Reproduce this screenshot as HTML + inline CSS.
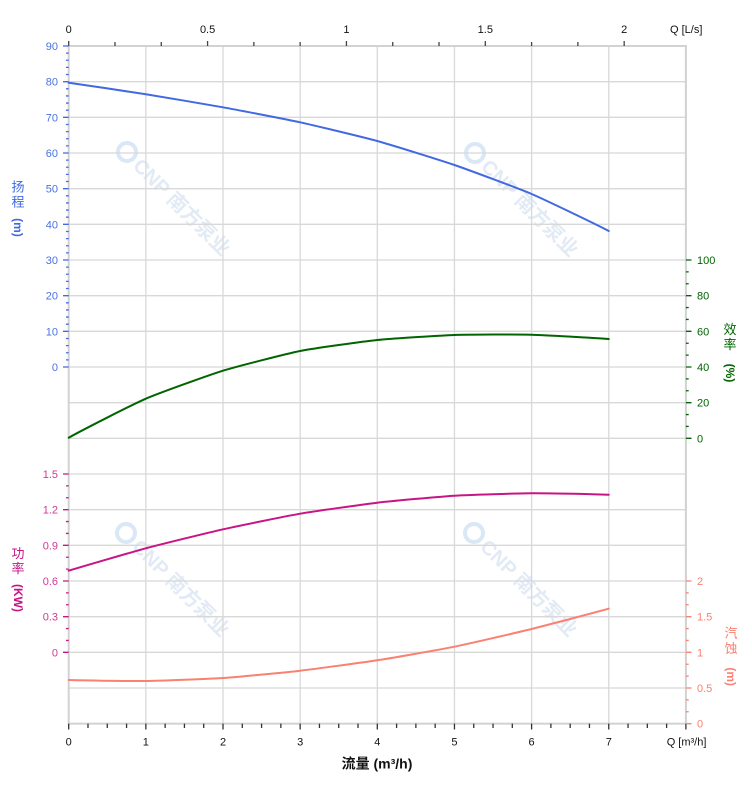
<!DOCTYPE html>
<html><head><meta charset="utf-8"><style>
html,body{margin:0;padding:0;background:#fff;}
svg{display:block;font-family:"Liberation Sans","Noto Sans CJK SC",sans-serif;}
</style></head><body>
<svg width="752" height="797" viewBox="0 0 752 797" xmlns="http://www.w3.org/2000/svg">
<!-- watermarks -->
<g fill="#e2ebf5" font-weight="bold" font-size="20" font-family="'Liberation Sans','Noto Sans CJK SC',sans-serif">
  <g transform="translate(127,152) rotate(45)"><circle cx="0" cy="0" r="9" fill="none" stroke="#d9e7f6" stroke-width="4"/><text x="14" y="7">CNP 南方泵业</text></g>
  <g transform="translate(475,153) rotate(45)"><circle cx="0" cy="0" r="9" fill="none" stroke="#d9e7f6" stroke-width="4"/><text x="14" y="7">CNP 南方泵业</text></g>
  <g transform="translate(126,533) rotate(45)"><circle cx="0" cy="0" r="9" fill="none" stroke="#d9e7f6" stroke-width="4"/><text x="14" y="7">CNP 南方泵业</text></g>
  <g transform="translate(474,533) rotate(45)"><circle cx="0" cy="0" r="9" fill="none" stroke="#d9e7f6" stroke-width="4"/><text x="14" y="7">CNP 南方泵业</text></g>
</g>
<!-- grid -->
<g stroke="#d8d8d8" stroke-width="1.3" fill="none">
<path d="M145.85,46V723.67M223,46V723.67M300.15,46V723.67M377.3,46V723.67M454.45,46V723.67M531.6,46V723.67M608.75,46V723.67"/>
<path d="M68.7,81.67H685.9M68.7,117.33H685.9M68.7,153H685.9M68.7,188.67H685.9M68.7,224.33H685.9M68.7,260H685.9M68.7,295.67H685.9M68.7,331.33H685.9M68.7,367H685.9M68.7,402.67H685.9M68.7,438.33H685.9M68.7,474H685.9M68.7,509.67H685.9M68.7,545.33H685.9M68.7,581H685.9M68.7,616.67H685.9M68.7,652.33H685.9M68.7,688H685.9"/>
</g>
<rect x="68.7" y="46" width="617.2" height="677.67" fill="none" stroke="#d2d2d2" stroke-width="2"/>

<!-- top axis ticks -->
<g stroke="#444" stroke-width="1.3">
<path d="M68.7,41V46M207.57,41V46M346.44,41V46M485.31,41V46M624.18,41V46"/>
<path d="M114.99,42V46M161.28,42V46M253.86,42V46M300.15,42V46M392.73,42V46M439.02,42V46M531.6,42V46M577.89,42V46"/>
</g>
<g font-size="11" fill="#111" text-anchor="middle">
<text x="68.7" y="33">0</text><text x="207.6" y="33">0.5</text><text x="346.4" y="33">1</text><text x="485.3" y="33">1.5</text><text x="624.2" y="33">2</text>
</g>
<text x="670" y="33" font-size="11" fill="#111">Q [L/s]</text>

<!-- bottom axis ticks -->
<g stroke="#333" stroke-width="1.3">
<path d="M68.7,723.67V729.5M145.85,723.67V729.5M223,723.67V729.5M300.15,723.67V729.5M377.3,723.67V729.5M454.45,723.67V729.5M531.6,723.67V729.5M608.75,723.67V729.5M685.9,723.67V729.5"/>
<path d="M87.99,723.67V728M107.28,723.67V728M126.56,723.67V728M165.14,723.67V728M184.43,723.67V728M203.71,723.67V728M242.29,723.67V728M261.58,723.67V728M280.86,723.67V728M319.44,723.67V728M338.73,723.67V728M358.01,723.67V728M396.59,723.67V728M415.88,723.67V728M435.16,723.67V728M473.74,723.67V728M493.03,723.67V728M512.31,723.67V728M550.89,723.67V728M570.18,723.67V728M589.46,723.67V728M628.04,723.67V728M647.33,723.67V728M666.61,723.67V728"/>
</g>
<g font-size="11" fill="#111" text-anchor="middle">
<text x="68.7" y="745.7">0</text><text x="145.85" y="745.7">1</text><text x="223" y="745.7">2</text><text x="300.15" y="745.7">3</text><text x="377.3" y="745.7">4</text><text x="454.45" y="745.7">5</text><text x="531.6" y="745.7">6</text><text x="608.75" y="745.7">7</text>
</g>
<text x="666.7" y="745.7" font-size="11" fill="#111">Q [m³/h]</text>
<text x="377" y="768.5" font-size="14" font-weight="bold" fill="#111" text-anchor="middle">流量 (m³/h)</text>

<!-- head axis (left, blue) -->
<g stroke="#4169E1" stroke-width="1.3">
<path d="M63,46H68.7M63,81.67H68.7M63,117.33H68.7M63,153H68.7M63,188.67H68.7M63,224.33H68.7M63,260H68.7M63,295.67H68.7M63,331.33H68.7M63,367H68.7"/>
<path d="M66,53.13H68.7M66,60.27H68.7M66,67.4H68.7M66,74.53H68.7M66,88.8H68.7M66,95.93H68.7M66,103.07H68.7M66,110.2H68.7M66,124.47H68.7M66,131.6H68.7M66,138.73H68.7M66,145.87H68.7M66,160.13H68.7M66,167.27H68.7M66,174.4H68.7M66,181.53H68.7M66,195.8H68.7M66,202.93H68.7M66,210.07H68.7M66,217.2H68.7M66,231.47H68.7M66,238.6H68.7M66,245.73H68.7M66,252.87H68.7M66,267.13H68.7M66,274.27H68.7M66,281.4H68.7M66,288.53H68.7M66,302.8H68.7M66,309.93H68.7M66,317.07H68.7M66,324.2H68.7M66,338.47H68.7M66,345.6H68.7M66,352.73H68.7M66,359.87H68.7"/>
</g>
<g font-size="11" fill="#4a72e3" text-anchor="end">
<text x="58" y="50">90</text><text x="58" y="85.7">80</text><text x="58" y="121.3">70</text><text x="58" y="157">60</text><text x="58" y="192.7">50</text><text x="58" y="228.3">40</text><text x="58" y="264">30</text><text x="58" y="299.7">20</text><text x="58" y="335.3">10</text><text x="58" y="371">0</text>
</g>
<g fill="#4169E1" font-size="13" text-anchor="middle">
<text x="18" y="191.5">扬</text><text x="18" y="206.5">程</text>
<text transform="translate(14,227.5) rotate(90)" font-weight="bold" font-size="12" text-anchor="middle">(m)</text>
</g>

<!-- efficiency axis (right, green) -->
<g stroke="#006400" stroke-width="1.3">
<path d="M685.9,260H691.5M685.9,295.67H691.5M685.9,331.33H691.5M685.9,367H691.5M685.9,402.67H691.5M685.9,438.33H691.5"/>
<path d="M685.9,271.89H688.7M685.9,283.78H688.7M685.9,307.56H688.7M685.9,319.44H688.7M685.9,343.22H688.7M685.9,355.11H688.7M685.9,378.89H688.7M685.9,390.78H688.7M685.9,414.56H688.7M685.9,426.44H688.7"/>
</g>
<g font-size="11" fill="#006400">
<text x="697" y="264">100</text><text x="697" y="299.7">80</text><text x="697" y="335.3">60</text><text x="697" y="371">40</text><text x="697" y="406.7">20</text><text x="697" y="442.3">0</text>
</g>
<g fill="#006400" font-size="13" text-anchor="middle">
<text x="730" y="334">效</text><text x="730" y="349">率</text>
<text transform="translate(726,373) rotate(90)" font-weight="bold" font-size="12" text-anchor="middle">(%)</text>
</g>

<!-- power axis (left, magenta) -->
<g stroke="#C71585" stroke-width="1.3">
<path d="M63,474H68.7M63,509.67H68.7M63,545.33H68.7M63,581H68.7M63,616.67H68.7M63,652.33H68.7"/>
<path d="M66,485.89H68.7M66,497.78H68.7M66,521.56H68.7M66,533.44H68.7M66,557.22H68.7M66,569.11H68.7M66,592.89H68.7M66,604.78H68.7M66,628.56H68.7M66,640.44H68.7"/>
</g>
<g font-size="11" fill="#cf3a95" text-anchor="end">
<text x="58" y="478">1.5</text><text x="58" y="513.7">1.2</text><text x="58" y="549.3">0.9</text><text x="58" y="585">0.6</text><text x="58" y="620.7">0.3</text><text x="58" y="656.3">0</text>
</g>
<g fill="#C71585" font-size="13" text-anchor="middle">
<text x="18" y="558">功</text><text x="18" y="573">率</text>
<text transform="translate(14,598) rotate(90)" font-weight="bold" font-size="12" text-anchor="middle">(KW)</text>
</g>

<!-- NPSH axis (right, salmon) -->
<g stroke="#FA8072" stroke-width="1.3">
<path d="M685.9,581H691.5M685.9,616.67H691.5M685.9,652.33H691.5M685.9,688H691.5M685.9,723.67H691.5"/>
<path d="M685.9,592.89H688.7M685.9,604.78H688.7M685.9,628.56H688.7M685.9,640.44H688.7M685.9,664.22H688.7M685.9,676.11H688.7M685.9,699.89H688.7M685.9,711.78H688.7"/>
</g>
<g font-size="11" fill="#FA8072">
<text x="697" y="585">2</text><text x="697" y="620.7">1.5</text><text x="697" y="656.3">1</text><text x="697" y="692">0.5</text><text x="697" y="727.7">0</text>
</g>
<g fill="#FA8072" font-size="13" text-anchor="middle">
<text x="731" y="637.5">汽</text><text x="731" y="653">蚀</text>
<text transform="translate(727,676.7) rotate(90)" font-weight="bold" font-size="12" text-anchor="middle">(m)</text>
</g>

<!-- curves -->
<g fill="none" stroke-width="2" stroke-linecap="round">
<path stroke="#4169E1" d="M68.7,82.7 C81.56,84.5 132.99,92.25 145.85,94.3 C158.71,96.35 210.14,104.97 223,107.3 C235.86,109.63 287.29,119.49 300.15,122.3 C313.01,125.11 364.44,137.44 377.3,141 C390.16,144.56 441.59,160.58 454.45,165 C467.31,169.42 518.74,188.5 531.6,194 C544.46,199.5 595.89,224.2 608.75,231"/>
<path stroke="#006400" d="M68.7,437.7 C81.56,430.4 132.99,404.28 145.85,398.7 C158.71,393.12 210.14,374.68 223,370.7 C235.86,366.72 287.29,353.56 300.15,351 C313.01,348.44 364.44,341.33 377.3,340 C390.16,338.67 441.59,335.44 454.45,335 C467.31,334.56 518.74,334.37 531.6,334.7 C544.46,335.03 595.89,338.1 608.75,339"/>
<path stroke="#C71585" d="M68.7,570.7 C81.56,566.8 132.99,551.75 145.85,548.3 C158.71,544.85 210.14,532.18 223,529.3 C235.86,526.42 287.29,515.92 300.15,513.7 C313.01,511.48 364.44,504.2 377.3,502.7 C390.16,501.2 441.59,496.48 454.45,495.7 C467.31,494.92 518.74,493.38 531.6,493.3 C544.46,493.22 595.89,494.35 608.75,494.7"/>
<path stroke="#FA8072" d="M68.7,680 C81.56,680.3 132.99,681.17 145.85,681 C158.71,680.83 210.14,678.86 223,678 C235.86,677.14 287.29,672.18 300.15,670.7 C313.01,669.22 364.44,662.3 377.3,660.3 C390.16,658.3 441.59,649.31 454.45,646.7 C467.31,644.09 518.74,632.17 531.6,629 C544.46,625.83 595.89,612.3 608.75,608.7"/>
</g>
</svg>
</body></html>
